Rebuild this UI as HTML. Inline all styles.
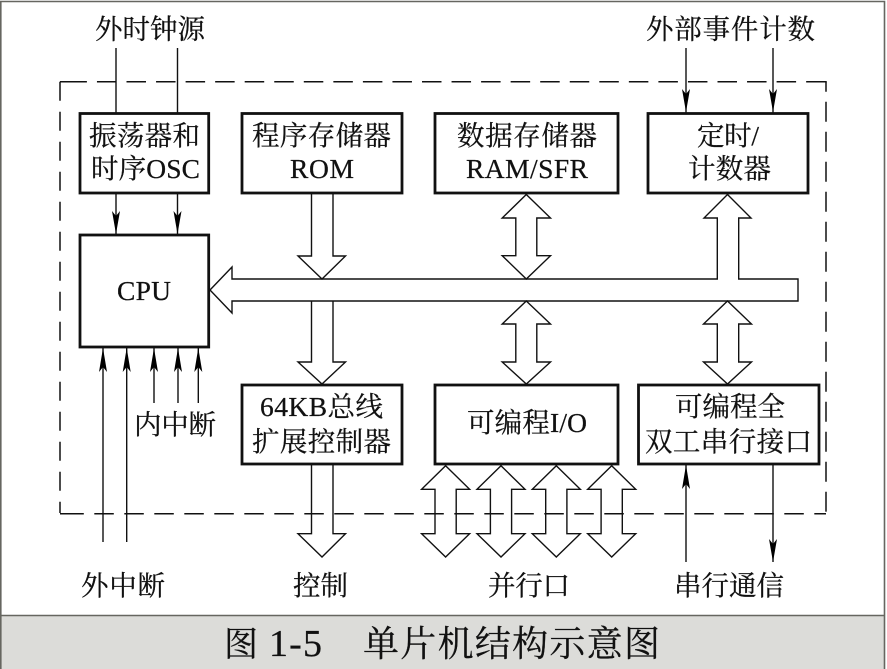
<!DOCTYPE html>
<html><head><meta charset="utf-8">
<style>
html,body{margin:0;padding:0;background:#fff;width:887px;height:669px;overflow:hidden}
svg{display:block}
text{font-family:"Liberation Serif","Noto Serif CJK SC",serif;font-size:27.5px;fill:#111;stroke:#111;stroke-width:.25px}
</style></head><body>
<svg width="887" height="669" viewBox="0 0 887 669" xmlns="http://www.w3.org/2000/svg">
<defs>
<path id="port" d="M0,465.7 L24,489.3 L10.6,489.3 L10.6,533.7 L24,533.7 L0,557 L-24,533.7 L-10.6,533.7 L-10.6,489.3 L-24,489.3 Z" fill="none" stroke="#111" stroke-width="1.4"/>
</defs>
<rect x="0" y="0" width="887" height="669" fill="#fff"/>
<rect x="0" y="615.5" width="885" height="54" fill="#dcdcd9"/>
<path d="M.8,669 V1.5 H884.5 V669 M0,615.5 H885" fill="none" stroke="#666660" stroke-width="1.6"/>

<!-- dashed enclosure -->
<g fill="none" stroke="#111" stroke-width="1.5">
<path d="M67.4,81.7 H809" stroke-dasharray="19.5 10.05"/>
<path d="M60,81.7 V513" stroke-dasharray="19 11"/>
<path d="M826,81.7 V513" stroke-dasharray="20 10" stroke-dashoffset="10"/>
<path d="M64.3,513.7 H826" stroke-dasharray="19.5 10.5"/>
<path d="M60,81.7 H68 M809,81.7 H826.7 M60,513.7 H64.5"/>
</g>

<!-- thin lines -->
<g stroke="#111" stroke-width="1.4" fill="none">
<path d="M116,48V113M177.5,48V113M116,193V235M177.5,193V235"/>
<path d="M686,48V113M773,48V113"/>
<path d="M103,347V542M126.7,347V542M154,347V403M178,347V403M198.3,347V403"/>
<path d="M686,465V562M773,465V562"/>
</g>
<path d="M116,234L112,211L116,216L120,211Z M177.5,234L173.5,211L177.5,216L181.5,211Z M686,112L682,89L686,94L690,89Z M773,112L769,89L773,94L777,89Z M773,562L769,539L773,544L777,539Z" fill="#000"/>
<path d="M103,348L99,372L103,367L107,372Z M126.7,348L122.7,372L126.7,367L130.7,372Z M154,348L150,372L154,367L158,372Z M178,348L174,372L178,367L182,372Z M198.3,348L194.3,372L198.3,367L202.3,372Z M686,465L682,489L686,484L690,489Z" fill="#000"/>

<!-- hollow arrows -->
<g fill="none" stroke="#111" stroke-width="1.4" stroke-linejoin="miter">
<path d="M210,290 L232,267 L232,279 L717.3,279 L717.3,218 L704,218 L727.5,194.5 L751,218 L738.7,218 L738.7,279 L798,279 L798,301 L232,301 L232,313 Z"/>
<path d="M311.5,194 V256 H298 L322,279 L345.5,256 H333 V194"/>
<path d="M311.5,301 V362 H298 L322,384 L345.5,362 H333 V301"/>
<path d="M311.5,465 V533.7 H298 L322,557 L345.5,533.7 H333 V465"/>
<path d="M526.3,194.5 L550.5,218 H536.8 V255.7 H550.5 L526.3,279 L502.2,255.7 H515.8 V218 H502.2 Z"/>
<path d="M526.3,301 L550.5,324 H536.8 V362 H550.5 L526.3,384 L502.2,362 H515.8 V324 H502.2 Z"/>
<path d="M727.5,301 L751.5,324 H738.7 V362 H751.5 L727.5,384 L703.5,362 H717.3 V324 H703.5 Z"/>
</g>
<use href="#port" x="445.6"/>
<use href="#port" x="501"/>
<use href="#port" x="556.3"/>
<use href="#port" x="611.7"/>

<!-- boxes -->
<g fill="#fff" stroke="#111" stroke-width="2.8">
<rect x="80" y="113.5" width="128.7" height="79.5"/>
<rect x="242" y="113.5" width="160" height="79.5"/>
<rect x="435" y="113.5" width="183" height="79.5"/>
<rect x="648" y="113.5" width="160" height="79.5"/>
<rect x="80" y="235" width="128.7" height="112"/>
<rect x="242" y="385" width="160" height="79"/>
<rect x="435" y="385" width="183" height="79"/>
<rect x="638.5" y="385" width="180.5" height="79"/>
</g>

<!-- labels -->
<text x="95" y="38.5" textLength="110">外时钟源</text>
<text x="646" y="38.5" textLength="169">外部事件计数</text>

<text x="89" y="145" textLength="111">振荡器和</text>
<text x="91" y="178" textLength="109">时序OSC</text>
<text x="252" y="145" textLength="139">程序存储器</text>
<text x="290" y="178" textLength="64">ROM</text>
<text x="457" y="145" textLength="140">数据存储器</text>
<text x="466" y="178" textLength="122">RAM/SFR</text>
<text x="697" y="145" textLength="62">定时/</text>
<text x="688" y="178" textLength="83">计数器</text>
<text x="117" y="300" textLength="54">CPU</text>

<text x="260" y="416" textLength="123">64KB总线</text>
<text x="252" y="451" textLength="139">扩展控制器</text>
<text x="467" y="432" textLength="120">可编程I/O</text>
<text x="675" y="416" textLength="110">可编程全</text>
<text x="645" y="451" textLength="167">双工串行接口</text>

<text x="134" y="434" textLength="82">内中断</text>
<text x="81" y="595" textLength="84">外中断</text>
<text x="293" y="595" textLength="55">控制</text>
<text x="488" y="595" textLength="82">并行口</text>
<text x="674" y="595" textLength="110">串行通信</text>

<text x="224" y="656" textLength="33" style="font-size:34px">图</text>
<text x="269" y="656" textLength="53" style="font-size:38px">1-5</text>
<text x="363" y="656" textLength="297" style="font-size:36px">单片机结构示意图</text>
</svg>
</body></html>
